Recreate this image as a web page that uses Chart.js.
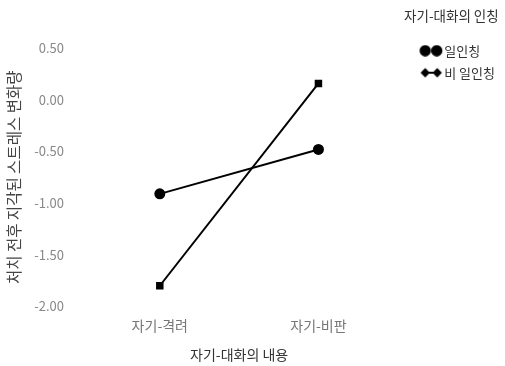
<!DOCTYPE html>
<html>
<head>
<meta charset="utf-8">
<script src="https://cdn.jsdelivr.net/npm/chart.js@4"></script>
<style>
  html, body { margin: 0; padding: 0; background: #fff; }
  #wrap { width: 505px; height: 366px; }
</style>
</head>
<body>
<div id="wrap"><canvas id="myChart"></canvas></div>
<script>
const labels = ["자기-격려", "자기-비판"];
const seriesNames = ["일인칭", "비 일인칭"];
const firstPerson = [-0.91, -0.48];
const nonFirstPerson = [-1.8, 0.16];
const yMin = -2;
const yMax = 0.5;
const yStep = 0.5;

const FONT = "'Noto Sans CJK KR', 'Noto Sans', sans-serif";

// legend marker: two symbols side by side, drawn off-centre so the text sits close
function legendMarker(shape) {
  const c = document.createElement("canvas");
  c.width = 48;
  c.height = 12;
  const g = c.getContext("2d");
  g.fillStyle = "#000";
  g.strokeStyle = "#000";
  g.lineWidth = 2;
  if (shape === "circle") {
    [27, 38.5].forEach((x) => {
      g.beginPath();
      g.arc(x, 6, 5.7, 0, Math.PI * 2);
      g.fill();
    });
  } else {
    g.beginPath();
    g.moveTo(27, 6);
    g.lineTo(39, 6);
    g.stroke();
    [27, 39].forEach((x) => {
      g.beginPath();
      g.moveTo(x - 4.7, 6);
      g.lineTo(x, 1.3);
      g.lineTo(x + 4.7, 6);
      g.lineTo(x, 10.7);
      g.closePath();
      g.fill();
    });
  }
  return c;
}
const markers = [legendMarker("circle"), legendMarker("diamond")];

const ctx = document.getElementById("myChart").getContext("2d");

const data = {
  labels,
  datasets: [
    {
      label: seriesNames[0],
      data: firstPerson,
      borderColor: "#000",
      backgroundColor: "#000",
      borderWidth: 2,
      pointStyle: "circle",
      pointRadius: 5.5,
      pointHoverRadius: 5.5,
      pointBorderWidth: 0,
    },
    {
      label: seriesNames[1],
      data: nonFirstPerson,
      borderColor: "#000",
      backgroundColor: "#000",
      borderWidth: 2,
      pointStyle: "rect",
      pointRadius: 5.3,
      pointHoverRadius: 5.3,
      pointBorderWidth: 0,
    },
  ],
};

const config = {
  type: "line",
  data: data,
  options: {
    responsive: true,
    maintainAspectRatio: false,
    animation: false,
    layout: {
      padding: { left: 0, right: 0, top: 4, bottom: 0 },
    },
    plugins: {
      tooltip: { enabled: false },
      legend: {
        position: "right",
        align: "start",
        title: {
          display: true,
          text: "자기-대화의 인칭",
          color: "#333",
          font: { family: FONT, size: 13.5 },
          padding: { top: 5, bottom: 10 },
        },
        labels: {
          usePointStyle: true,
          pointStyleWidth: 31,
          padding: 9,
          color: "#333",
          font: { family: FONT, size: 13 },
          generateLabels: (chart) =>
            Chart.defaults.plugins.legend.labels
              .generateLabels(chart)
              .map((item, i) => ({ ...item, pointStyle: markers[i] })),
        },
      },
    },
    scales: {
      x: {
        offset: true,
        grid: { display: false, drawTicks: false },
        border: { display: false },
        ticks: {
          padding: 11,
          color: "#777",
          font: { family: FONT, size: 14 },
        },
        title: {
          display: true,
          text: "자기-대화의 내용",
          color: "#333",
          font: { family: FONT, size: 14 },
          padding: { top: 1, bottom: 3 },
        },
      },
      y: {
        min: yMin,
        max: yMax,
        grid: { display: false, drawTicks: false },
        border: { display: false },
        ticks: {
          stepSize: yStep,
          padding: 16.5,
          color: "#888",
          font: { family: FONT, size: 13 },
          callback: (v) => Number(v).toFixed(2),
        },
        title: {
          display: true,
          text: "처치 전후 지각된 스트레스 변화량",
          color: "#444",
          font: { family: FONT, size: 15.5 },
          padding: { top: 4.7, bottom: 0 },
        },
        afterFit: (scale) => {
          scale.width = 80.5;
          scale.paddingTop = 48.3;
        },
      },
    },
  },
};

const myChart = new Chart(ctx, config);
</script>
</body>
</html>
